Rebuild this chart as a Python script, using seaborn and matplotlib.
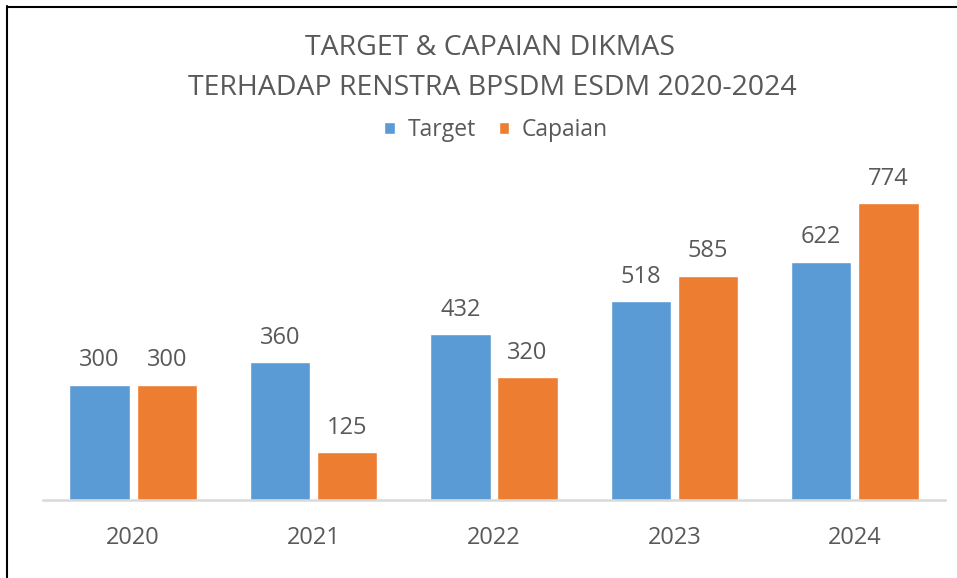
import pandas as pd
import seaborn as sns
import matplotlib.pyplot as plt
from matplotlib.lines import Line2D

years = ['2020', '2021', '2022', '2023', '2024']
target = [300, 360, 432, 518, 622]
capaian = [300, 125, 320, 585, 774]
series_names = ['Target', 'Capaian']

df = pd.DataFrame({
    'Tahun': years * 2,
    'Seri': [series_names[0]] * 5 + [series_names[1]] * 5,
    'Nilai': target + capaian,
})

sns.set_style('white')
plt.rcParams['font.family'] = ['Open Sans', 'DejaVu Sans']
grey = '#595959'

fig = plt.figure(figsize=(9.57, 5.78), dpi=100)
W, H = 957, 578
ax = fig.add_axes([43 / W, (H - 500) / H, 902 / W, 345 / H])

sns.barplot(data=df, x='Tahun', y='Nilai', hue='Seri',
            palette=['#5B9BD5', '#ED7D31'], saturation=1,
            width=0.744, gap=0.1, errorbar=None, ax=ax)

ax.set_xlim(-0.5, 4.5)
ax.set_ylim(0, 900)
ax.set_xlabel('')
ax.set_ylabel('')
ax.set_yticks([])
for s in ['left', 'right', 'top']:
    ax.spines[s].set_visible(False)
ax.spines['bottom'].set_color('#D9D9D9')
ax.spines['bottom'].set_linewidth(1.8)
ax.tick_params(axis='x', length=0, pad=19, labelsize=17, labelcolor=grey)

for c in ax.containers:
    ax.bar_label(c, padding=9, fontsize=17, color=grey)

leg = ax.get_legend()
handles = leg.legend_handles
leg.remove()
fig.legend(handles, series_names, loc='center', bbox_to_anchor=(496 / W, 1 - 130 / H),
           ncol=2, frameon=False, fontsize=16.5, labelcolor=grey,
           handlelength=0.45, handleheight=0.45, handletextpad=0.55, columnspacing=1.0)

fig.text(490 / W, 1 - 48 / H, 'TARGET & CAPAIAN DIKMAS', ha='center', va='center',
         fontsize=20.5, color=grey)
fig.text(492 / W, 1 - 88 / H, 'TERHADAP RENSTRA BPSDM ESDM 2020-2024', ha='center', va='center',
         fontsize=20.5, color=grey)

# chart border
fig.add_artist(Line2D([7.5 / W, 7.5 / W], [0, 1 - 6 / H], color='black', lw=1.5))
fig.add_artist(Line2D([7.5 / W, 1], [1 - 6.5 / H, 1 - 6.5 / H], color='black', lw=1.5))

fig.savefig('out.png', dpi=100)
